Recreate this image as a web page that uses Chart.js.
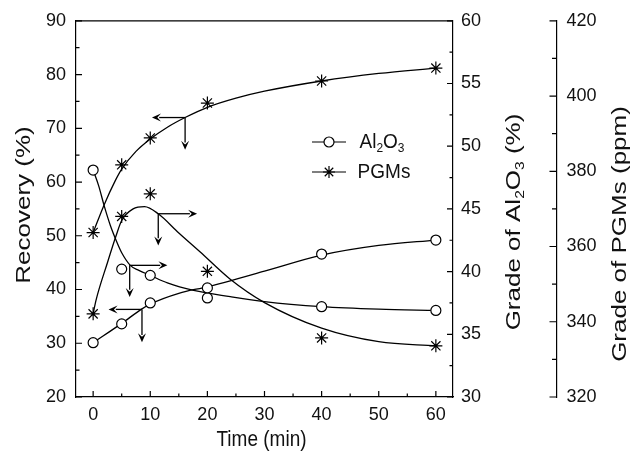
<!DOCTYPE html>
<html>
<head>
<meta charset="utf-8">
<script src="https://cdn.jsdelivr.net/npm/chart.js@4.4.1/dist/chart.umd.min.js"></script>
<style>
  body { margin: 0; background: #fff; }
</style>
</head>
<body>
<canvas id="myChart" width="632" height="452"></canvas>
<script>
// Sampling times (min)
const time = [0, 5, 10, 20, 40, 60];

// Recovery (%), left axis
const recAl = [30.1, 33.6, 37.5, 40.3, 46.6, 49.2];
const recPgm = [50.6, 63.2, 68.2, 74.7, 78.8, 81.2];

// Grades, right axes
const gradeAl = [48.1, 40.2, 39.7, 37.9, 37.2, 36.9];      // %
const gradePgm = [342.1, 368.0, 374.0, 353.4, 335.7, 333.6]; // ppm

// fitted curves
const fitRecAlTime = [0, 5, 8.55, 10, 15, 20, 24, 30, 40, 50, 60];
const fitRecAl = [30.1, 33.7, 36.4, 37.3, 39.3, 40.5, 41.6, 43.4, 46.4, 48.2, 49.2];
const fitRecPgmTime = [0, 1.9, 3.9, 5, 7.5, 10, 13, 16.1, 20, 25, 30, 40, 50, 60];
const fitRecPgm = [50.6, 55.7, 60.3, 62.4, 65.7, 68.0, 70.2, 72.0, 73.9, 75.6, 76.9, 78.8, 80.2, 81.2];
const fitAlTime = [0, 1, 1.9, 3, 4.2, 5, 6.5, 8, 10, 13, 17.6, 24, 30, 40, 50, 60];
const fitAlGrade = [48.1, 46.8, 45.3, 43.7, 42.3, 41.5, 40.5, 40.1, 39.7, 39.1, 38.5, 38.0, 37.6, 37.2, 37.0, 36.9];
const fitPgmTime = [0, 0.5, 2.5, 4, 5, 7, 9, 11.4, 15, 18.7, 24, 30, 40, 50, 60];
const fitPgmGrade = [342.1, 345.7, 355.7, 362.8, 366.9, 370.0, 370.6, 368.7, 363.6, 358.6, 351.3, 345.1, 338.3, 334.7, 333.6];

// arrows: start point on a curve (time, recovery units), horizontal tip x, vertical tip y
const arrowX = [16.1, 11.4, 6.4, 8.55];
const arrowY = [72.0, 54.1, 44.5, 36.3];
const arrowTipX = [10.3, 18.2, 13.0, 2.7];
const arrowTipY = [66.0, 48.2, 38.6, 30.2];

const fontName = "'Liberation Sans', Arial, sans-serif";
const ink = '#111';

function pts(xs, ys) {
  return xs.map((x, i) => ({ x: x, y: ys[i] }));
}

function drawArrow(ctx, x0, y0, x1, y1) {
  const ang = Math.atan2(y1 - y0, x1 - x0);
  const c = Math.cos(ang), s = Math.sin(ang);
  const len = 9, hw = 4;
  ctx.beginPath();
  ctx.moveTo(x0, y0);
  ctx.lineTo(x1 - c * len * 0.8, y1 - s * len * 0.8);
  ctx.stroke();
  ctx.beginPath();
  ctx.moveTo(x1, y1);
  ctx.lineTo(x1 - c * len - s * hw, y1 - s * len + c * hw);
  ctx.lineTo(x1 - c * len * 0.6, y1 - s * len * 0.6);
  ctx.lineTo(x1 - c * len + s * hw, y1 - s * len - c * hw);
  ctx.closePath();
  ctx.fill();
}

function drawStar(ctx, x, y, r) {
  const d = r * Math.SQRT1_2;
  ctx.beginPath();
  ctx.moveTo(x - r, y); ctx.lineTo(x + r, y);
  ctx.moveTo(x, y - r); ctx.lineTo(x, y + r);
  ctx.moveTo(x - d, y - d); ctx.lineTo(x + d, y + d);
  ctx.moveTo(x - d, y + d); ctx.lineTo(x + d, y - d);
  ctx.stroke();
}

// text made of [string, isSubscript] parts, centred on (cx, cy)
function drawTitle(ctx, parts, cx, cy, fs, rotated, stretch) {
  ctx.save();
  ctx.fillStyle = ink;
  ctx.textBaseline = 'middle';
  const sub = Math.round(fs * 0.62);
  let w = 0;
  parts.forEach(p => {
    ctx.font = (p[1] ? sub : fs) + 'px ' + fontName;
    w += ctx.measureText(p[0]).width;
  });
  ctx.translate(cx, cy);
  if (rotated) {
    ctx.rotate(-Math.PI / 2);
    ctx.scale(stretch, 1);
  } else {
    ctx.scale(1, stretch);
  }
  let x = -w / 2;
  parts.forEach(p => {
    ctx.font = (p[1] ? sub : fs) + 'px ' + fontName;
    ctx.fillText(p[0], x, p[1] ? fs * 0.32 : 0);
    x += ctx.measureText(p[0]).width;
  });
  ctx.restore();
}

// inward tick marks, top frame, arrows, titles and legend
const framePlugin = {
  id: 'frame',
  afterDraw(chart) {
    const ctx = chart.ctx;
    const a = chart.chartArea;
    const sx = chart.scales.x, sy = chart.scales.y, s1 = chart.scales.y1, s2 = chart.scales.y2;
    ctx.save();
    ctx.strokeStyle = '#000';
    ctx.fillStyle = '#000';
    ctx.lineWidth = 1.2;

    ctx.beginPath();
    ctx.moveTo(a.left, a.top);
    ctx.lineTo(a.right, a.top);
    ctx.stroke();

    function ticksOf(scale, cb) {
      const t = scale.ticks.map(k => k.value);
      t.forEach((v, i) => {
        cb(scale.getPixelForValue(v), 6);
        if (i < t.length - 1) cb(scale.getPixelForValue((v + t[i + 1]) / 2), 3.5);
      });
    }
    ctx.beginPath();
    ticksOf(sx, (p, l) => { ctx.moveTo(p, a.bottom); ctx.lineTo(p, a.bottom - l); });
    ticksOf(sy, (p, l) => { ctx.moveTo(a.left, p); ctx.lineTo(a.left + l, p); });
    ticksOf(s1, (p, l) => { ctx.moveTo(a.right, p); ctx.lineTo(a.right - l, p); });
    ticksOf(s2, (p, l) => { ctx.moveTo(s2.left, p); ctx.lineTo(s2.left - l - 1, p); });
    ctx.stroke();

    // arrows
    ctx.lineWidth = 1.3;
    for (let i = 0; i < arrowX.length; i++) {
      const x0 = sx.getPixelForValue(arrowX[i]);
      const y0 = sy.getPixelForValue(arrowY[i]);
      drawArrow(ctx, x0, y0, sx.getPixelForValue(arrowTipX[i]), y0);
      drawArrow(ctx, x0, y0, x0, sy.getPixelForValue(arrowTipY[i]));
    }

    // axis titles
    drawTitle(ctx, [['Time (min)', 0]], (a.left + a.right) / 2 - 3, 440, 19, false, 1.2);
    drawTitle(ctx, [['Recovery (%)', 0]], 24, 205, 20, true, 1.3);
    drawTitle(ctx, [['Grade of Al', 0], ['2', 1], ['O', 0], ['3', 1], [' (%)', 0]], 514, 222, 20, true, 1.3);
    drawTitle(ctx, [['Grade of PGMs (ppm)', 0]], 620, 234, 20, true, 1.3);

    // legend
    const lx0 = 312, lx1 = 346, mx = 329, tx = 360;
    const rows = [142, 172];
    ctx.lineWidth = 1.2;
    rows.forEach(ry => {
      ctx.beginPath();
      ctx.moveTo(lx0, ry); ctx.lineTo(lx1, ry);
      ctx.stroke();
    });
    ctx.beginPath();
    ctx.arc(mx, rows[0], 5, 0, Math.PI * 2);
    ctx.fillStyle = '#fff';
    ctx.fill();
    ctx.stroke();
    drawStar(ctx, mx, rows[1], 6);
    ctx.restore();

    drawTitle(ctx, [['Al', 0], ['2', 1], ['O', 0], ['3', 1]], tx + 22, rows[0], 19, false, 1.1);
    drawTitle(ctx, [['PGMs', 0]], tx + 24, rows[1], 19, false, 1.1);
  }
};

const baseGrid = { drawOnChartArea: false, drawTicks: false };
const tickFont = { family: fontName, size: 18 };

function fitLine(label, data, axis) {
  return {
    label: label,
    data: data,
    yAxisID: axis,
    showLine: true,
    cubicInterpolationMode: 'monotone',
    borderColor: '#000',
    borderWidth: 1.3,
    pointRadius: 0,
    order: 2
  };
}

function markers(label, data, axis, style) {
  return {
    label: label,
    data: data,
    yAxisID: axis,
    showLine: false,
    pointStyle: style,
    pointRadius: style === 'star' ? 6.5 : 5,
    pointBackgroundColor: '#fff',
    pointBorderColor: '#000',
    pointBorderWidth: 1.2,
    order: 0
  };
}

const myChart = document.getElementById('myChart');

new Chart(myChart, {
  type: 'scatter',
  data: {
    datasets: [
      fitLine('Al2O3 recovery fit', pts(fitRecAlTime, fitRecAl), 'y'),
      fitLine('PGMs recovery fit', pts(fitRecPgmTime, fitRecPgm), 'y'),
      fitLine('Al2O3 grade fit', pts(fitAlTime, fitAlGrade), 'y1'),
      fitLine('PGMs grade fit', pts(fitPgmTime, fitPgmGrade), 'y2'),
      markers('Al2O3 recovery', pts(time, recAl), 'y', 'circle'),
      markers('PGMs recovery', pts(time, recPgm), 'y', 'star'),
      markers('Al2O3 grade', pts(time, gradeAl), 'y1', 'circle'),
      markers('PGMs grade', pts(time, gradePgm), 'y2', 'star')
    ]
  },
  options: {
    responsive: false,
    animation: false,
    layout: { padding: { top: 20, left: 0, right: 0, bottom: 0 } },
    plugins: {
      legend: { display: false },
      tooltip: { enabled: false }
    },
    scales: {
      x: {
        type: 'linear',
        min: -3,
        max: 63,
        grid: baseGrid,
        border: { display: true, color: '#000', width: 1.2 },
        ticks: { stepSize: 10, includeBounds: false, color: ink, font: tickFont, padding: 7 },
        afterFit: s => { s.height = 55; }
      },
      y: {
        position: 'left',
        min: 20,
        max: 90,
        grid: baseGrid,
        border: { display: true, color: '#000', width: 1.2 },
        ticks: { stepSize: 10, color: ink, font: tickFont, padding: 10 },
        afterFit: s => { s.width = 76; }
      },
      y1: {
        position: 'right',
        weight: 0,
        min: 30,
        max: 60,
        grid: baseGrid,
        border: { display: true, color: '#000', width: 1.2 },
        ticks: { stepSize: 5, color: ink, font: tickFont, padding: 8 },
        afterFit: s => { s.width = 103.5; }
      },
      y2: {
        position: 'right',
        weight: 1,
        min: 320,
        max: 420,
        grid: baseGrid,
        border: { display: true, color: '#000', width: 1.2 },
        ticks: { stepSize: 20, color: ink, font: tickFont, padding: 10 },
        afterFit: s => { s.width = 75.5; }
      }
    }
  },
  plugins: [framePlugin]
});
</script>
</body>
</html>
